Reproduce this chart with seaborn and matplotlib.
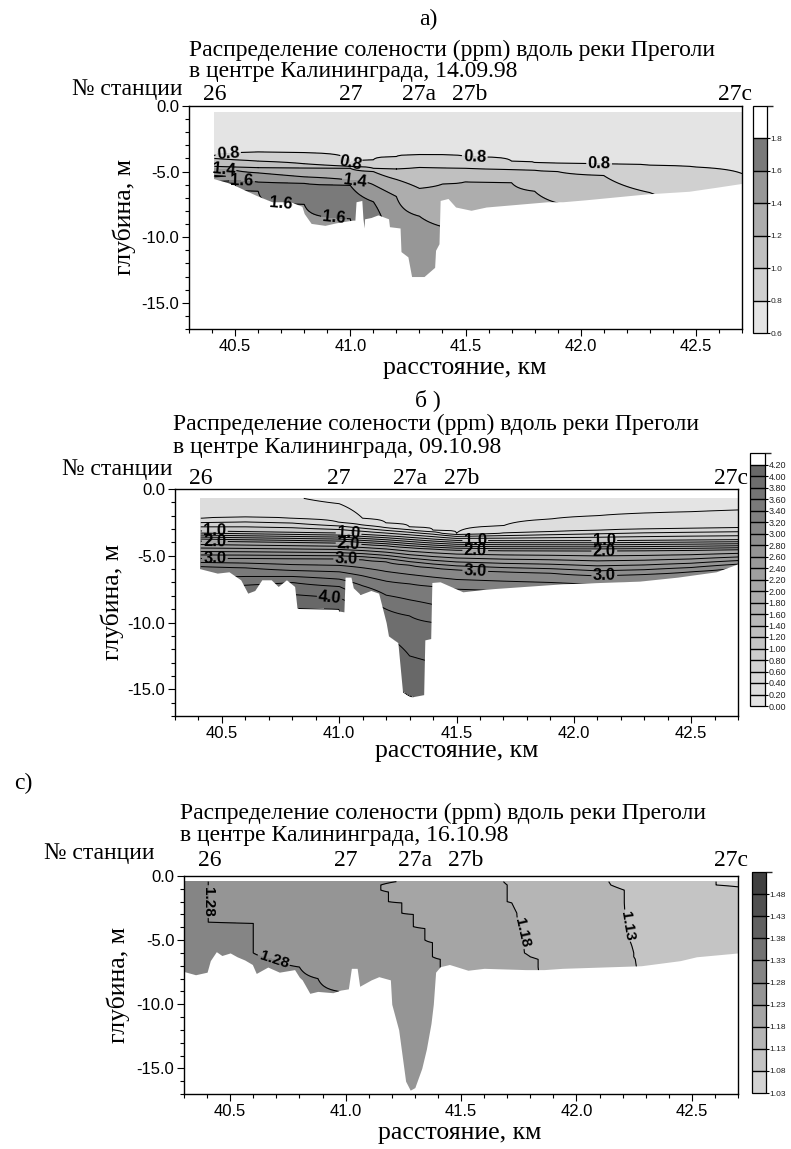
import numpy as np
import matplotlib
matplotlib.use("Agg")
import matplotlib.pyplot as plt
import seaborn as sns
from matplotlib.colors import ListedColormap, BoundaryNorm
from matplotlib.cm import ScalarMappable
from matplotlib.ticker import MultipleLocator, FormatStrFormatter

sns.set_theme(style="white")
plt.rcParams['font.family'] = ['Liberation Sans', 'DejaVu Sans']
plt.rcParams['axes.unicode_minus'] = False

W, H = 791, 1149
SERIF = ['Liberation Serif', 'DejaVu Serif']

# ---------------- shared text ----------------
station_names = ["26", "27", "27a", "27b", "27c"]
station_km = [40.41, 41.0, 41.3, 41.52, 42.67]
title_line1 = "Распределение солености (ppm) вдоль реки Преголи"
title_line2 = "в центре Калининграда, "
dates = ["14.09.98", "09.10.98", "16.10.98"]
panel_letters = ["а)", "б )", "c)"]

# ---------------- panel a (14.09.98): isoline depths per column ----------------
a_x = [40.41, 40.5, 40.6, 40.8, 41.0, 41.1, 41.2, 41.3, 41.4, 41.5, 41.7, 41.8, 41.9, 42.1, 42.3, 42.5, 42.7]
a_iso_levels = [0.8, 1.0, 1.2, 1.4, 1.6]
a_d08 = [-3.8, -3.6, -3.5, -3.55, -4.35, -4.1, -3.85, -3.7, -3.72, -3.85, -4.2, -4.32, -4.35, -4.42, -4.52, -4.65, -5.15]
a_d10 = [-4.0, -4.1, -4.2, -4.4, -4.6, -4.75, -4.8, -4.68, -4.72, -4.75, -4.85, -4.9, -5.0, -5.3, -6.6, -8.0, -8.0]
a_d12 = [-4.6, -4.65, -4.7, -4.72, -4.75, -5.0, -5.6, -6.28, -5.95, -5.77, -5.85, -6.5, -7.4, -9.0, -10.0, -10.0, -10.0]
a_d14 = [-4.75, -4.9, -5.1, -5.4, -5.65, -6.0, -6.9, -8.4, -9.2, -10.5, -11.0, -11.0, -11.0, -11.0, -11.0, -11.0, -11.0]
a_d16 = [-5.3, -5.7, -5.8, -5.9, -6.05, -7.3, -14.0, -14.0, -14.0, -14.0, -14.0, -14.0, -14.0, -14.0, -14.0, -14.0, -14.0]
a_d16_lower = [-5.4, -5.9, -6.5, -7.5, -8.6, -10.0, -14.5, -14.5, -14.5, -14.5, -14.5, -14.5, -14.5, -14.5, -14.5, -14.5, -14.5]
a_top, a_top_val, a_lens_val, a_bottom_val = -0.5, 0.7, 1.7, 1.5
a_bed_x = [40.40, 40.48, 40.59, 40.66, 40.74, 40.79, 40.80, 40.83, 40.89, 40.94, 41.01, 41.02, 41.025, 41.05,
           41.055, 41.06, 41.062, 41.09, 41.12, 41.166, 41.17, 41.216, 41.22, 41.25, 41.266, 41.32, 41.366,
           41.37, 41.385, 41.39, 41.424, 41.457, 41.524, 41.59, 41.756, 41.856, 41.922, 42.022, 42.288,
           42.47, 42.587, 42.70]
a_bed_d = [-5.5, -5.9, -6.8, -7.3, -7.3, -7.65, -8.2, -8.95, -9.1, -8.9, -8.7, -8.7, -7.3, -7.2,
           -8.6, -9.3, -8.6, -8.5, -8.3, -8.6, -9.2, -9.3, -11.1, -11.5, -13.0, -13.0, -12.3,
           -11.0, -10.5, -7.2, -7.05, -7.7, -7.95, -7.7, -7.45, -7.3, -7.3, -7.15, -6.7,
           -6.5, -6.2, -5.9]
a_levels = [0.6, 0.8, 1.0, 1.2, 1.4, 1.6, 1.8, 2.0]
a_colors = ['#e4e4e4', '#d0d0d0', '#c0c0c0', '#adadad', '#979797', '#7a7a7a', '#ffffff']
a_label_levels = [0.8, 1.4, 1.6]
a_label_pos = [(40.47, -3.65), (41.0, -4.35), (41.54, -3.85), (42.08, -4.42),
               (40.45, -4.8), (41.02, -5.7), (40.53, -5.75), (40.7, -7.0), (40.93, -8.3)]

# ---------------- panel b (09.10.98) ----------------
b_x = [40.41, 40.6, 40.8, 41.0, 41.1, 41.2, 41.3, 41.4, 41.5, 41.7, 41.9, 42.1, 42.3, 42.5, 42.7]
b_iso_levels = [0.2, 0.4, 1.0, 2.0, 3.0, 3.4, 3.8, 4.2]
b_d02 = [-0.3, -0.3, -0.5, -1.1, -2.2, -2.55, -2.85, -3.1, -3.32, -2.75, -2.25, -2.0, -1.8, -1.7, -1.57]
b_d04 = [-2.2, -2.1, -2.2, -2.5, -2.7, -2.9, -3.05, -3.2, -3.4, -3.3, -3.2, -3.1, -3.0, -2.95, -2.9]
b_d10 = [-3.15, -3.2, -3.25, -3.3, -3.4, -3.5, -3.62, -3.75, -3.85, -3.87, -3.87, -3.87, -3.85, -3.82, -3.8]
b_d20 = [-3.9, -3.95, -4.0, -4.05, -4.15, -4.25, -4.4, -4.5, -4.58, -4.62, -4.63, -4.64, -4.62, -4.6, -4.55]
b_d30 = [-5.2, -5.2, -5.22, -5.24, -5.3, -5.45, -5.7, -5.9, -6.05, -6.2, -6.3, -6.5, -6.4, -6.2, -5.9]
b_d34 = [-5.8, -5.9, -6.1, -6.2, -6.5, -6.9, -7.1, -7.3, -7.5, -7.6, -7.7, -7.8, -7.6, -7.4, -7.0]
b_d38 = [-7.5, -7.2, -7.0, -7.3, -8.0, -9.0, -9.5, -10.0, -10.0, -10.0, -10.0, -10.0, -10.0, -10.0, -10.0]
b_d42 = [-10.0, -9.5, -8.8, -9.0, -10.5, -13.0, -15.5, -16.0, -16.0, -16.0, -16.0, -16.0, -16.0, -16.0, -16.0]
b_top, b_surface_val, b_bottom_val = -0.7, 0.0, 4.3
b_bed_x = [40.40, 40.48, 40.53, 40.58, 40.61, 40.64, 40.67, 40.71, 40.74, 40.775, 40.81, 40.82, 40.86,
           40.97, 41.02, 41.025, 41.05, 41.06, 41.09, 41.135, 41.168, 41.20, 41.21, 41.25, 41.27, 41.30,
           41.33, 41.36, 41.365, 41.39, 41.395, 41.43, 41.527, 41.625, 41.789, 41.953, 42.116, 42.28,
           42.443, 42.607, 42.70]
b_bed_d = [-5.94, -6.3, -6.2, -6.8, -7.8, -7.6, -6.8, -6.8, -7.3, -6.8, -7.3, -8.9, -9.2,
           -9.05, -9.2, -6.6, -6.6, -7.4, -7.9, -7.6, -7.8, -10.0, -11.0, -11.5, -15.2, -15.6,
           -15.5, -15.4, -11.3, -11.2, -7.0, -6.95, -7.7, -7.5, -7.3, -7.1, -7.0, -6.9,
           -6.6, -6.2, -5.6]
b_levels = [round(0.2 * k, 1) for k in range(23)]
b_label_levels = [1.0, 2.0, 3.0, 4.0]
b_label_pos = [(40.47, -3.15), (41.04, -3.32), (41.58, -3.87), (42.13, -3.87),
               (40.47, -3.9), (41.04, -4.07), (41.58, -4.62), (42.13, -4.64),
               (40.47, -5.2), (41.03, -5.24), (41.58, -6.12), (42.13, -6.5), (40.96, -8.0)]

# ---------------- panel c (16.10.98): isoline distance per depth row ----------------
c_rows = [-0.44, -0.7, -1.1, -1.25, -2.0, -2.1, -2.9, -3.0, -3.6, -3.7, -3.95, -4.1, -5.0, -5.2,
          -6.0, -6.3, -6.5, -7.1, -8.0, -9.0, -17.0]
c_iso_levels = [1.28, 1.23, 1.18, 1.13, 1.08]
c_x128 = [40.405, 40.405, 40.405, 40.405, 40.405, 40.405, 40.405, 40.405, 40.405, 40.60, 40.60, 40.60,
          40.60, 40.60, 40.60, 40.64, 40.69, 40.80, 40.88, 40.97, 41.0]
c_x123 = [41.22, 41.153, 41.153, 41.186, 41.186, 41.244, 41.244, 41.294, 41.294, 41.294, 41.294, 41.344,
          41.344, 41.377, 41.377, 41.377, 41.41, 41.41, 41.42, 41.42, 41.42]
c_x118 = [41.684, 41.70, 41.70, 41.70, 41.70, 41.72, 41.742, 41.742, 41.745, 41.75, 41.755, 41.76,
          41.77, 41.77, 41.775, 41.80, 41.834, 41.834, 41.84, 41.84, 41.84]
c_x113 = [42.14, 42.149, 42.207, 42.207, 42.207, 42.207, 42.21, 42.21, 42.215, 42.215, 42.22, 42.22,
          42.23, 42.235, 42.248, 42.248, 42.255, 42.26, 42.26, 42.26, 42.26]
c_x108 = [42.605, 42.605, 42.80, 42.90, 42.90, 42.90, 42.90, 42.90, 42.90, 42.90, 42.90, 42.90,
          42.90, 42.90, 42.90, 42.90, 42.90, 42.90, 42.90, 42.90, 42.90]
c_left_x, c_left_val, c_right_x, c_right_val = 40.2, 1.30, 43.0, 1.06
c_bed_x = [40.30, 40.35, 40.40, 40.414, 40.44, 40.464, 40.50, 40.53, 40.563, 40.596, 40.613, 40.663,
           40.713, 40.779, 40.80, 40.812, 40.845, 40.879, 40.945, 40.978, 41.012, 41.025, 41.05,
           41.061, 41.111, 41.144, 41.194, 41.20, 41.23, 41.26, 41.28, 41.30, 41.33, 41.35, 41.37,
           41.38, 41.39, 41.41, 41.45, 41.53, 41.60, 41.78, 41.86, 41.94, 42.11, 42.28, 42.45, 42.52, 42.70]
c_bed_d = [-7.45, -7.7, -7.5, -6.6, -5.9, -6.2, -6.0, -6.3, -6.55, -6.9, -7.6, -7.1,
           -7.5, -7.3, -7.9, -8.1, -9.15, -9.0, -9.1, -8.9, -8.8, -7.2, -7.2,
           -8.6, -8.1, -7.85, -8.1, -10.0, -12.0, -16.0, -16.7, -16.5, -15.0, -13.5, -11.5,
           -10.0, -7.5, -7.07, -6.9, -7.35, -7.2, -7.3, -7.3, -7.2, -7.1, -7.0, -6.6, -6.3, -6.0]
c_levels = [1.03, 1.08, 1.13, 1.18, 1.23, 1.28, 1.33, 1.38, 1.43, 1.48, 1.53]
c_colors = ['#d4d4d4', '#c4c4c4', '#b5b5b5', '#a5a5a5', '#959595', '#858585', '#737373',
            '#616161', '#505050', '#404040']
c_label_levels = [1.13, 1.18, 1.28]
c_label_pos = [(40.405, -2.0), (40.69, -6.5), (41.745, -4.5), (42.215, -3.9)]

# grey ramp for panel b (style only)
b_colors = ['#%02x%02x%02x' % (g, g, g) for g in np.linspace(228, 104, 21).astype(int)] + ['#ffffff']


def rect(x0, x1, y0, y1):
    return [x0 / W, 1 - y1 / H, (x1 - x0) / W, (y1 - y0) / H]


def column_field(cols, depth_lists, value_list, grid):
    """depth_lists: per anchor a list of depths (one per column); value_list: anchor values."""
    Z = np.empty((grid.size, len(cols)))
    for i in range(len(cols)):
        xp = [-d[i] for d in depth_lists]
        Z[:, i] = np.interp(-grid, xp, value_list)
    return Z


def row_field(rows, levels, xs, lx, lv, rx, rv, xgrid):
    Z = np.empty((len(rows), xgrid.size))
    for j in range(len(rows)):
        xp = [lx] + [xx[j] for xx in xs] + [rx]
        fp = [lv] + list(levels) + [rv]
        Z[j] = np.interp(xgrid, xp, fp)
    return Z


def lines_and_labels(ax, X, Y, Z, all_levels, label_levels, label_pos, fmt, fs, lw):
    label_levels = sorted(label_levels)
    plain = [lv for lv in all_levels if all(abs(lv - q) > 1e-9 for q in label_levels)]
    if plain:
        ax.contour(X, Y, Z, levels=plain, colors='black', linewidths=lw, zorder=2)
    cs = ax.contour(X, Y, Z, levels=label_levels, colors='black', linewidths=lw, zorder=2)
    with plt.rc_context({'font.weight': 'bold', 'font.family': ['Liberation Sans']}):
        texts = ax.clabel(cs, manual=label_pos, fmt=fmt, fontsize=fs,
                          inline=True, inline_spacing=2, colors='black')
    for t in texts:
        t.set_zorder(4)
        t.set_fontweight('bold')


def style_axes(ax):
    ax.set_xlim(40.3, 42.7)
    ax.set_ylim(-17, 0)
    ax.set_facecolor('white')
    ax.xaxis.set_major_locator(MultipleLocator(0.5))
    ax.xaxis.set_minor_locator(MultipleLocator(0.1))
    ax.yaxis.set_major_locator(MultipleLocator(5))
    ax.yaxis.set_minor_locator(MultipleLocator(1))
    ax.xaxis.set_major_formatter(FormatStrFormatter('%.1f'))
    ax.yaxis.set_major_formatter(FormatStrFormatter('%.1f'))
    ax.tick_params(which='both', direction='out', bottom=True, left=True, top=False, right=False,
                   colors='black', labelsize=12, width=0.8)
    ax.tick_params(which='major', length=5, pad=2)
    ax.tick_params(which='minor', length=3)
    for s in ax.spines.values():
        s.set_color('black')
        s.set_linewidth(1.0)
        s.set_zorder(5)
    ax.set_xticks([40.5, 41.0, 41.5, 42.0, 42.5])


def add_cbar(r, levels, colors, ticks, fmt, fs):
    cax = fig.add_axes(r)
    cmap = ListedColormap(colors)
    norm = BoundaryNorm(levels, cmap.N)
    sm = ScalarMappable(norm=norm, cmap=cmap)
    cb = fig.colorbar(sm, cax=cax, boundaries=levels, ticks=ticks, drawedges=True, spacing='uniform')
    cb.outline.set_linewidth(0.9)
    cb.outline.set_edgecolor('black')
    cb.dividers.set_linewidth(1.0)
    cb.dividers.set_color('black')
    cax.tick_params(labelsize=fs, length=2, width=0.8, direction='out', pad=0.5, right=True, colors='black')
    cax.yaxis.set_major_formatter(FormatStrFormatter(fmt))
    for t in cax.get_yticklabels():
        t.set_color('#222222')
    return cb


def ftext(x, y, s, **kw):
    fig.text(x / W, 1 - y / H, s, **kw)


fig = plt.figure(figsize=(W / 100, H / 100), dpi=100)
fig.patch.set_facecolor('white')

# ---------- panel a ----------
ax_a = fig.add_axes(rect(189, 742, 106, 329))
grid_a = np.linspace(-17.0, a_top, 331)
a_mid = [(u + l) / 2 for u, l in zip(a_d16, a_d16_lower)]
ncol_a = len(a_x)
Za = column_field(a_x,
                  [[a_top] * ncol_a, a_d08, a_d10, a_d12, a_d14, a_d16, a_mid, a_d16_lower, [-17.5] * ncol_a],
                  [a_top_val, 0.8, 1.0, 1.2, 1.4, 1.6, a_lens_val, 1.6, a_bottom_val], grid_a)
ax_a.contourf(a_x, grid_a, Za, levels=a_levels, colors=a_colors, zorder=1)
lines_and_labels(ax_a, a_x, grid_a, Za, a_iso_levels, a_label_levels, a_label_pos, '%.1f', 12, 0.8)
ax_a.fill_between(a_bed_x, a_bed_d, -18, color='white', lw=0, zorder=2.5)
style_axes(ax_a)
add_cbar(rect(753, 767, 106, 333), a_levels, a_colors, a_levels[:-1], '%.1f', 6)

# ---------- panel b ----------
ax_b = fig.add_axes(rect(175, 738, 489, 716))
grid_b = np.linspace(-17.0, b_top, 331)
ncol_b = len(b_x)
Zb = column_field(b_x,
                  [[0.0] * ncol_b, b_d02, b_d04, b_d10, b_d20, b_d30, b_d34, b_d38, b_d42, [-17.5] * ncol_b],
                  [b_surface_val] + b_iso_levels + [b_bottom_val], grid_b)
ax_b.contourf(b_x, grid_b, Zb, levels=b_levels, colors=b_colors, zorder=1)
lines_and_labels(ax_b, b_x, grid_b, Zb, b_levels[1:-1], b_label_levels, b_label_pos, '%.1f', 12, 0.7)
ax_b.fill_between(b_bed_x, b_bed_d, -18, color='white', lw=0, zorder=2.5)
style_axes(ax_b)
add_cbar(rect(750, 765, 453, 706), b_levels, b_colors, b_levels[:-1], '%.2f', 6.5)

# ---------- panel c ----------
ax_c = fig.add_axes(rect(184, 738, 876, 1094))
xgrid_c = np.linspace(40.3, 42.7, 481)
Zc = row_field(c_rows, c_iso_levels, [c_x128, c_x123, c_x118, c_x113, c_x108],
               c_left_x, c_left_val, c_right_x, c_right_val, xgrid_c)
rows_c = np.array(c_rows)[::-1]
Zc = Zc[::-1]
ax_c.contourf(xgrid_c, rows_c, Zc, levels=c_levels, colors=c_colors, zorder=1)
lines_and_labels(ax_c, xgrid_c, rows_c, Zc, c_levels[1:-1], c_label_levels, c_label_pos, '%.2f', 11, 0.8)
ax_c.fill_between(c_bed_x, c_bed_d, -18, color='white', lw=0, zorder=2.5)
style_axes(ax_c)
add_cbar(rect(752, 766, 872, 1093), c_levels, c_colors, c_levels[:-1], '%.2f', 6)

# ---------- texts ----------
serif = dict(family=SERIF, color='black')
panels = [
    dict(ax=ax_a, letter=(428, 19), t1=(189, 50), t2=(189, 72), num=(182, 89), st_y=95,
         ylab=(124, 217), xlab=(465, 368)),
    dict(ax=ax_b, letter=(428, 400), t1=(173, 424), t2=(173, 447), num=(172, 469), st_y=479,
         ylab=(112, 602), xlab=(457, 751)),
    dict(ax=ax_c, letter=(23, 783), t1=(180, 813), t2=(180, 836), num=(155, 853), st_y=861,
         ylab=(118, 985), xlab=(460, 1133)),
]
for p, letter, date in zip(panels, panel_letters, dates):
    ftext(*p['letter'], letter, ha='center', va='center', fontsize=17, **serif)
    ftext(*p['t1'], title_line1, ha='left', va='center', fontsize=17, **serif)
    ftext(*p['t2'], title_line2 + date, ha='left', va='center', fontsize=17, **serif)
    ftext(*p['num'], "№ станции", ha='right', va='center', fontsize=17, **serif)
    ax = p['ax']
    bb = ax.get_position()
    for name, km in zip(station_names, station_km):
        xf = bb.x0 + (km - 40.3) / 2.4 * bb.width
        fig.text(xf, 1 - p['st_y'] / H, name, ha='center', va='center', fontsize=17, **serif)
    ftext(*p['ylab'], "глубина, м", ha='center', va='center', rotation=90, fontsize=18.5, **serif)
    ftext(*p['xlab'], "расстояние, км", ha='center', va='center', fontsize=18.5, **serif)

fig.savefig("out.png", dpi=100, facecolor='white')
